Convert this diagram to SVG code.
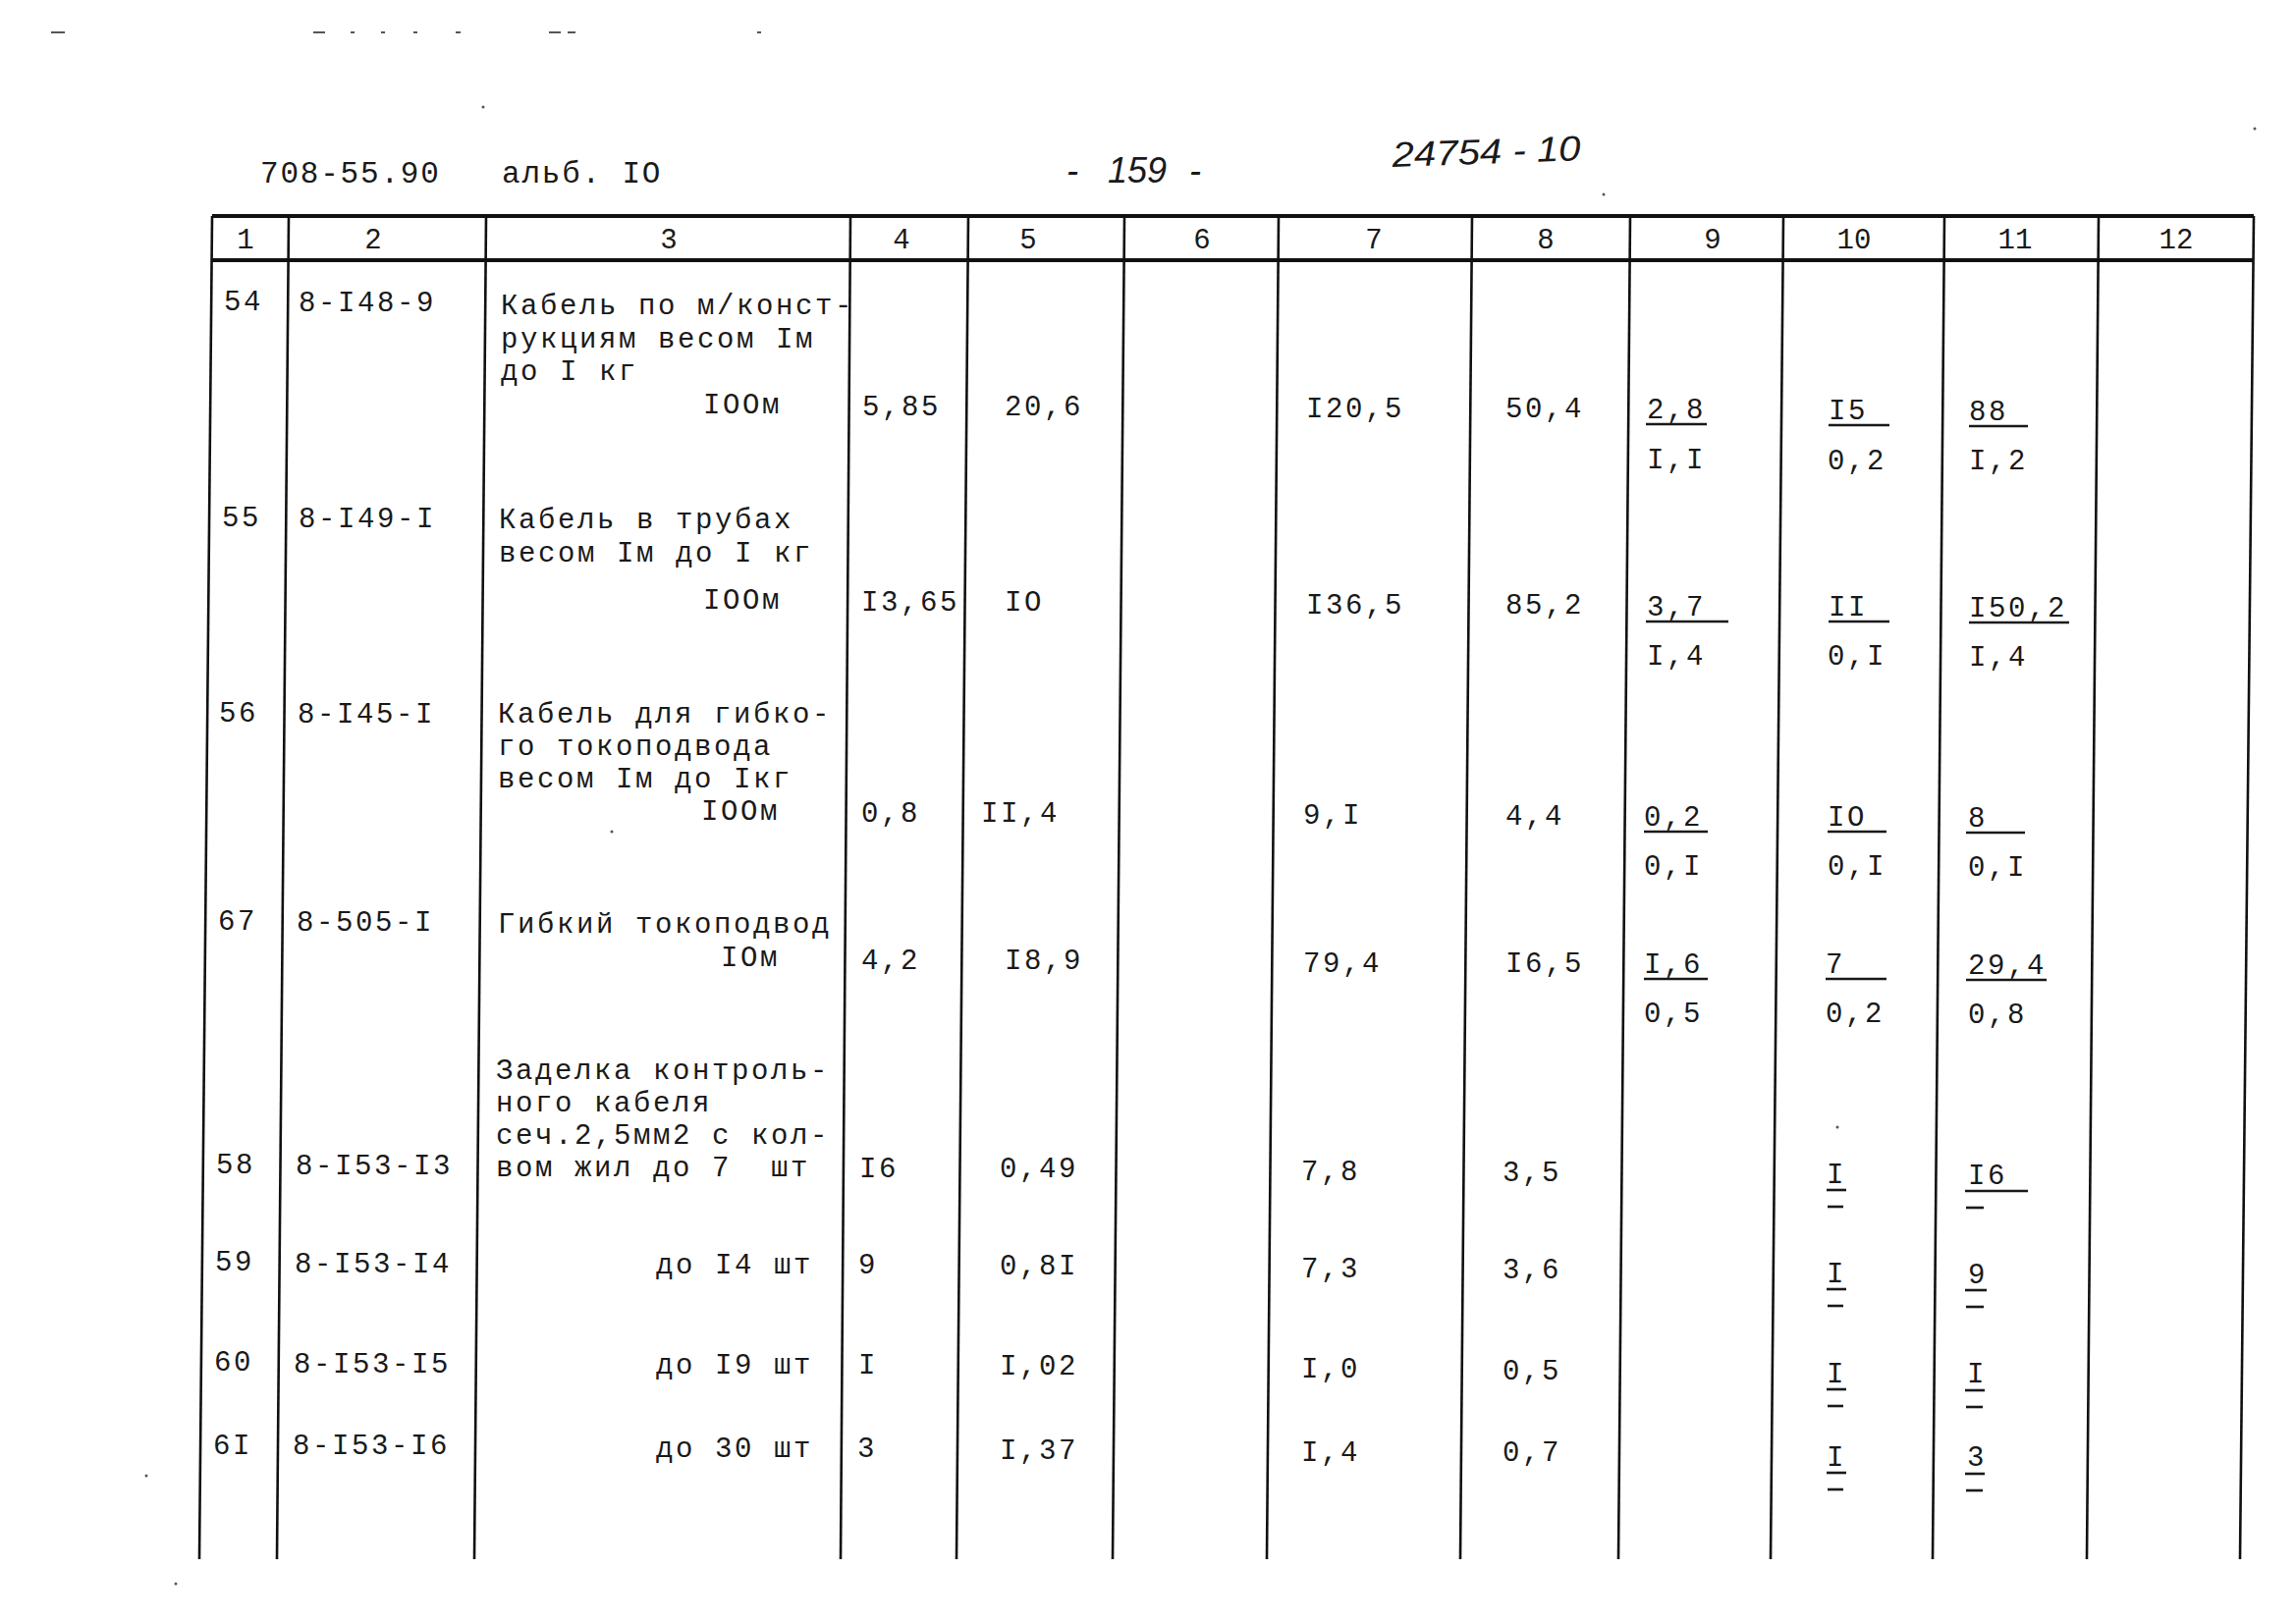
<svg xmlns="http://www.w3.org/2000/svg" width="2338" height="1653" viewBox="0 0 2338 1653">
<style>
.t{font-family:"Liberation Mono","DejaVu Sans Mono",monospace;font-size:29px;letter-spacing:2.6px;fill:#1a1a1a}
.h{font-family:"Liberation Mono","DejaVu Sans Mono",monospace;font-size:29px;fill:#1a1a1a;text-anchor:middle}
.hd{font-family:"Liberation Mono","DejaVu Sans Mono",monospace;font-size:31px;letter-spacing:1.8px;fill:#1a1a1a}
.hw{font-family:"Liberation Sans",Arial,sans-serif;font-style:italic;font-size:36px;fill:#1a1a1a}
.v{stroke:#111;stroke-width:2.6;fill:none}
.hz{stroke:#111;stroke-width:4;fill:none}
.u{stroke:#1a1a1a;stroke-width:2.6}
.m{fill:#555}
</style>
<rect width="2338" height="1653" fill="#fff"/>

<g id="scan-marks">
<rect class="m" x="52" y="32" width="14" height="2"/>
<rect class="m" x="319" y="32" width="12" height="2"/>
<rect class="m" x="357" y="32" width="4" height="2"/>
<rect class="m" x="388" y="32" width="4" height="2"/>
<rect class="m" x="421" y="32" width="4" height="2"/>
<rect class="m" x="464" y="32" width="5" height="2"/>
<rect class="m" x="559" y="32" width="12" height="2"/>
<rect class="m" x="578" y="32" width="8" height="2"/>
<rect class="m" x="771" y="32" width="4" height="2"/>
<circle class="m" cx="492" cy="109" r="1.5"/>
<circle class="m" cx="1633" cy="198" r="1.5"/>
<circle class="m" cx="2296" cy="131" r="1.5"/>
<circle class="m" cx="623" cy="847" r="1.5"/>
<circle class="m" cx="1871" cy="1148" r="1.5"/>
<circle class="m" cx="179" cy="1613" r="1.5"/>
<circle class="m" cx="149" cy="1503" r="1.5"/>
</g>

<g id="page-header">
<text class="hd" x="265" y="186">708-55.90</text>
<text class="hd" x="511" y="186">альб. IO</text>
<text class="hw" x="1086" y="186">-</text>
<text class="hw" x="1128" y="186">159</text>
<text class="hw" x="1211" y="186">-</text>
<text class="hw" x="1418" y="170" textLength="192" lengthAdjust="spacingAndGlyphs" transform="rotate(-2 1418 170)">24754 - 10</text>
</g>

<g id="table-grid">
<line class="hz" x1="216" y1="220" x2="2295" y2="220"/>
<line class="hz" x1="216" y1="265" x2="2295" y2="265"/>
<line class="v" x1="216" y1="220" x2="203" y2="1588"/>
<line class="v" x1="294" y1="220" x2="282" y2="1588"/>
<line class="v" x1="495" y1="220" x2="483" y2="1588"/>
<line class="v" x1="866" y1="220" x2="856" y2="1588"/>
<line class="v" x1="986" y1="220" x2="974" y2="1588"/>
<line class="v" x1="1145" y1="220" x2="1133" y2="1588"/>
<line class="v" x1="1302" y1="220" x2="1290" y2="1588"/>
<line class="v" x1="1499" y1="220" x2="1487" y2="1588"/>
<line class="v" x1="1660" y1="220" x2="1648" y2="1588"/>
<line class="v" x1="1816" y1="220" x2="1803" y2="1588"/>
<line class="v" x1="1980" y1="220" x2="1968" y2="1588"/>
<line class="v" x1="2137" y1="220" x2="2125" y2="1588"/>
<line class="v" x1="2295" y1="220" x2="2281" y2="1588"/>
</g>

<g id="column-headers">
<text class="h" x="250" y="253">1</text>
<text class="h" x="380" y="253">2</text>
<text class="h" x="681" y="253">3</text>
<text class="h" x="918" y="253">4</text>
<text class="h" x="1047" y="253">5</text>
<text class="h" x="1224" y="253">6</text>
<text class="h" x="1399" y="253">7</text>
<text class="h" x="1574" y="253">8</text>
<text class="h" x="1744" y="253">9</text>
<text class="h" x="1888" y="253">10</text>
<text class="h" x="2052" y="253">11</text>
<text class="h" x="2216" y="253">12</text>
</g>

<g id="row-54">
<text class="t" x="228" y="316">54</text>
<text class="t" x="304" y="317">8-I48-9</text>
<text class="t" x="510" y="320">Кабель по м/конст-</text>
<text class="t" x="510" y="354">рукциям весом Iм</text>
<text class="t" x="510" y="387">до I кг</text>
<text class="t" x="716" y="421">IOOм</text>
<text class="t" x="878" y="423">5,85</text>
<text class="t" x="1023" y="423">20,6</text>
<text class="t" x="1330" y="425">I20,5</text>
<text class="t" x="1533" y="425">50,4</text>
<text class="t" x="1677" y="426">2,8</text>
<line class="u" x1="1676" y1="432" x2="1738" y2="432"/>
<text class="t" x="1677" y="477">I,I</text>
<text class="t" x="1862" y="427">I5</text>
<line class="u" x1="1862" y1="433" x2="1924" y2="433"/>
<text class="t" x="1861" y="478">0,2</text>
<text class="t" x="2005" y="428">88</text>
<line class="u" x1="2005" y1="434" x2="2065" y2="434"/>
<text class="t" x="2005" y="478">I,2</text>
</g>

<g id="row-55">
<text class="t" x="226" y="536">55</text>
<text class="t" x="304" y="537">8-I49-I</text>
<text class="t" x="508" y="538">Кабель в трубах</text>
<text class="t" x="508" y="572">весом Iм до I кг</text>
<text class="t" x="716" y="620">IOOм</text>
<text class="t" x="877" y="622">I3,65</text>
<text class="t" x="1023" y="622">IO</text>
<text class="t" x="1330" y="625">I36,5</text>
<text class="t" x="1533" y="625">85,2</text>
<text class="t" x="1677" y="627">3,7</text>
<line class="u" x1="1676" y1="633" x2="1760" y2="633"/>
<text class="t" x="1677" y="677">I,4</text>
<text class="t" x="1862" y="627">II</text>
<line class="u" x1="1862" y1="633" x2="1924" y2="633"/>
<text class="t" x="1861" y="677">0,I</text>
<text class="t" x="2005" y="628">I50,2</text>
<line class="u" x1="2005" y1="634" x2="2107" y2="634"/>
<text class="t" x="2005" y="678">I,4</text>
</g>

<g id="row-56">
<text class="t" x="223" y="735">56</text>
<text class="t" x="303" y="736">8-I45-I</text>
<text class="t" x="507" y="736">Кабель для гибко-</text>
<text class="t" x="507" y="769">го токоподвода</text>
<text class="t" x="507" y="802">весом Iм до Iкг</text>
<text class="t" x="714" y="835">IOOм</text>
<text class="t" x="877" y="837">0,8</text>
<text class="t" x="999" y="837">II,4</text>
<text class="t" x="1327" y="839">9,I</text>
<text class="t" x="1533" y="840">4,4</text>
<text class="t" x="1674" y="841">0,2</text>
<line class="u" x1="1674" y1="847" x2="1739" y2="847"/>
<text class="t" x="1674" y="891">0,I</text>
<text class="t" x="1861" y="841">IO</text>
<line class="u" x1="1861" y1="847" x2="1921" y2="847"/>
<text class="t" x="1861" y="891">0,I</text>
<text class="t" x="2004" y="842">8</text>
<line class="u" x1="2002" y1="848" x2="2062" y2="848"/>
<text class="t" x="2004" y="892">0,I</text>
</g>

<g id="row-67">
<text class="t" x="222" y="947">67</text>
<text class="t" x="302" y="948">8-505-I</text>
<text class="t" x="507" y="950">Гибкий токоподвод</text>
<text class="t" x="734" y="984">IOм</text>
<text class="t" x="877" y="987">4,2</text>
<text class="t" x="1023" y="987">I8,9</text>
<text class="t" x="1327" y="990">79,4</text>
<text class="t" x="1533" y="990">I6,5</text>
<text class="t" x="1674" y="991">I,6</text>
<line class="u" x1="1674" y1="997" x2="1739" y2="997"/>
<text class="t" x="1674" y="1041">0,5</text>
<text class="t" x="1859" y="991">7</text>
<line class="u" x1="1859" y1="997" x2="1921" y2="997"/>
<text class="t" x="1859" y="1041">0,2</text>
<text class="t" x="2004" y="992">29,4</text>
<line class="u" x1="2002" y1="998" x2="2084" y2="998"/>
<text class="t" x="2004" y="1042">0,8</text>
</g>

<g id="row-58">
<text class="t" x="505" y="1099">Заделка контроль-</text>
<text class="t" x="505" y="1132">ного кабеля</text>
<text class="t" x="505" y="1165">сеч.2,5мм2 с кол-</text>
<text class="t" x="505" y="1198" xml:space="preserve">вом жил до 7  шт</text>
<text class="t" x="220" y="1195">58</text>
<text class="t" x="301" y="1196">8-I53-I3</text>
<text class="t" x="875" y="1199">I6</text>
<text class="t" x="1018" y="1199">0,49</text>
<text class="t" x="1325" y="1202">7,8</text>
<text class="t" x="1530" y="1203">3,5</text>
<text class="t" x="1860" y="1205">I</text>
<line class="u" x1="1860" y1="1212" x2="1880" y2="1212"/>
<line class="u" x1="1861" y1="1229" x2="1877" y2="1229"/>
<text class="t" x="2004" y="1206">I6</text>
<line class="u" x1="2001" y1="1213" x2="2065" y2="1213"/>
<line class="u" x1="2002" y1="1230" x2="2020" y2="1230"/>
</g>

<g id="row-59">
<text class="t" x="219" y="1294">59</text>
<text class="t" x="300" y="1296">8-I53-I4</text>
<text class="t" x="668" y="1297">до I4 шт</text>
<text class="t" x="874" y="1297">9</text>
<text class="t" x="1018" y="1298">0,8I</text>
<text class="t" x="1325" y="1301">7,3</text>
<text class="t" x="1530" y="1302">3,6</text>
<text class="t" x="1860" y="1306">I</text>
<line class="u" x1="1860" y1="1313" x2="1880" y2="1313"/>
<line class="u" x1="1861" y1="1330" x2="1877" y2="1330"/>
<text class="t" x="2004" y="1307">9</text>
<line class="u" x1="2001" y1="1314" x2="2023" y2="1314"/>
<line class="u" x1="2002" y1="1331" x2="2020" y2="1331"/>
</g>

<g id="row-60">
<text class="t" x="218" y="1396">60</text>
<text class="t" x="299" y="1398">8-I53-I5</text>
<text class="t" x="668" y="1399">до I9 шт</text>
<text class="t" x="874" y="1399">I</text>
<text class="t" x="1018" y="1400">I,02</text>
<text class="t" x="1325" y="1403">I,0</text>
<text class="t" x="1530" y="1405">0,5</text>
<text class="t" x="1860" y="1408">I</text>
<line class="u" x1="1860" y1="1415" x2="1880" y2="1415"/>
<line class="u" x1="1861" y1="1432" x2="1877" y2="1432"/>
<text class="t" x="2003" y="1408">I</text>
<line class="u" x1="2001" y1="1416" x2="2021" y2="1416"/>
<line class="u" x1="2002" y1="1433" x2="2019" y2="1433"/>
</g>

<g id="row-61">
<text class="t" x="217" y="1481">6I</text>
<text class="t" x="298" y="1481">8-I53-I6</text>
<text class="t" x="668" y="1484">до 30 шт</text>
<text class="t" x="873" y="1484">3</text>
<text class="t" x="1018" y="1486">I,37</text>
<text class="t" x="1325" y="1488">I,4</text>
<text class="t" x="1530" y="1488">0,7</text>
<text class="t" x="1860" y="1493">I</text>
<line class="u" x1="1860" y1="1500" x2="1880" y2="1500"/>
<line class="u" x1="1861" y1="1517" x2="1877" y2="1517"/>
<text class="t" x="2003" y="1493">3</text>
<line class="u" x1="2001" y1="1501" x2="2021" y2="1501"/>
<line class="u" x1="2002" y1="1518" x2="2019" y2="1518"/>
</g>
</svg>
